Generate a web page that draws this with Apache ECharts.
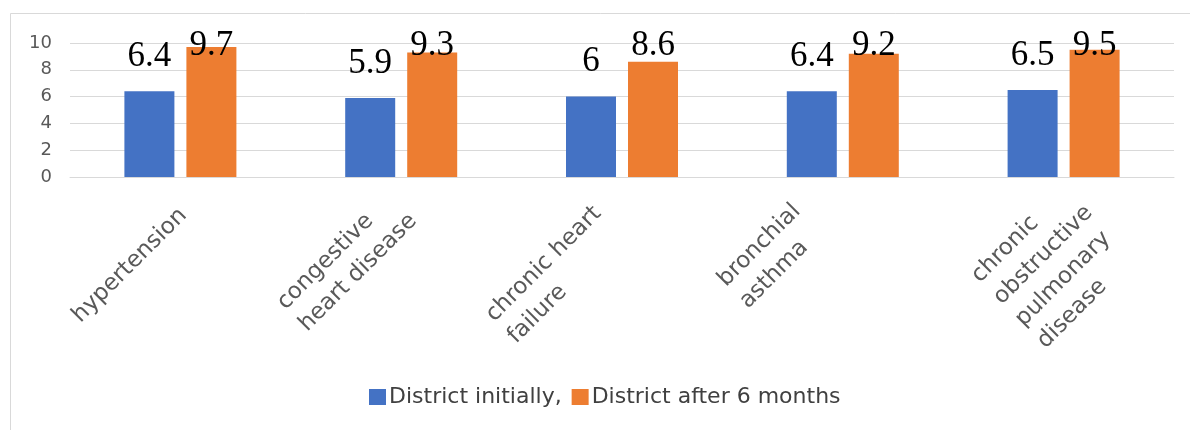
<!DOCTYPE html>
<html><head><meta charset="utf-8">
<script src="https://cdn.jsdelivr.net/npm/echarts@6/dist/echarts.min.js"></script>
<style>html,body{margin:0;padding:0;background:#fff}#c{width:1190px;height:430px}</style>
</head><body><div id="c"></div>
<script>
// ---- data ----
const categories = ['hypertension', 'congestive heart disease', 'chronic heart failure', 'bronchial asthma', 'chronic obstructive pulmonary disease'];
const categoryLines = [['hypertension'], ['congestive', 'heart disease'], ['chronic heart', 'failure'], ['bronchial', 'asthma'], ['chronic', 'obstructive', 'pulmonary', 'disease']];
const seriesNames = ['District initially,', 'District after 6 months'];
const initialValues = [6.4, 5.9, 6, 6.4, 6.5];
const after6Values = [9.7, 9.3, 8.6, 9.2, 9.5];
const yTicks = [0, 2, 4, 6, 8, 10];

// ---- style ----
const catLabelOffset = [[-115, 131], [-131, 118], [-143, 130], [-132, 95], [-99, 91]];
const LABEL_CEIL = 28;
const axisFont = 'DejaVu Sans';

const chart = echarts.init(document.getElementById('c'), null, {renderer: 'canvas'});

function clampLabel(p) {
  if (p.labelRect.y < LABEL_CEIL) return {dy: LABEL_CEIL - p.labelRect.y};
  return {};
}
const dataLabel = {
  show: true, position: 'top', distance: 17,
  fontFamily: 'Liberation Serif', fontSize: 35, color: '#000'
};

chart.setOption({
  animation: false,
  backgroundColor: '#fff',
  textStyle: {fontFamily: axisFont},
  graphic: [{
    type: 'rect', silent: true, z: -1,
    shape: {x: 10.5, y: 13.5, width: 1300, height: 600},
    style: {fill: 'none', stroke: '#D9D9D9', lineWidth: 1}
  }],
  grid: {left: 70, right: 16, top: 43, bottom: 253, containLabel: false},
  legend: {
    data: seriesNames,
    left: 364, top: 381,
    itemWidth: 17, itemHeight: 16, itemGap: 10,
    icon: 'rect',
    textStyle: {fontFamily: axisFont, fontSize: 22, color: '#404040', padding: [0, 0, 0, -2]}
  },
  xAxis: {
    type: 'category', data: categories,
    axisLine: {show: true, lineStyle: {color: '#D9D9D9', width: 1}},
    axisTick: {show: false},
    axisLabel: {show: false},
    splitLine: {show: false}
  },
  yAxis: {
    type: 'value', min: yTicks[0], max: yTicks[yTicks.length - 1], interval: yTicks[1] - yTicks[0],
    axisLine: {show: false}, axisTick: {show: false},
    axisLabel: {fontFamily: axisFont, fontSize: 18, color: '#595959', margin: 18},
    splitLine: {lineStyle: {color: '#D9D9D9', width: 1}}
  },
  series: [
    {
      name: seriesNames[0], type: 'bar', data: initialValues,
      barWidth: 50, barGap: '24%',
      itemStyle: {color: '#4472C4'},
      label: dataLabel, labelLayout: clampLabel
    },
    {
      name: seriesNames[1], type: 'bar', data: after6Values,
      barWidth: 50, barGap: '24%',
      itemStyle: {color: '#ED7D31'},
      label: dataLabel, labelLayout: clampLabel
    },
    {
      type: 'custom', clip: false, silent: true,
      data: categories.map((c, i) => [i, 0]),
      encode: {x: 0, y: 1},
      renderItem: function (params, api) {
        const i = api.value(0);
        const p = api.coord([i, 0]);
        const off = catLabelOffset[i];
        return {
          type: 'text',
          x: p[0] + off[0], y: p[1] + off[1],
          rotation: Math.PI / 4,
          style: {
            text: categoryLines[i].join('\n'),
            fontFamily: axisFont, fontSize: 23, fill: '#595959',
            align: 'left', verticalAlign: 'top', lineHeight: 31
          }
        };
      }
    }
  ]
});
</script></body></html>
